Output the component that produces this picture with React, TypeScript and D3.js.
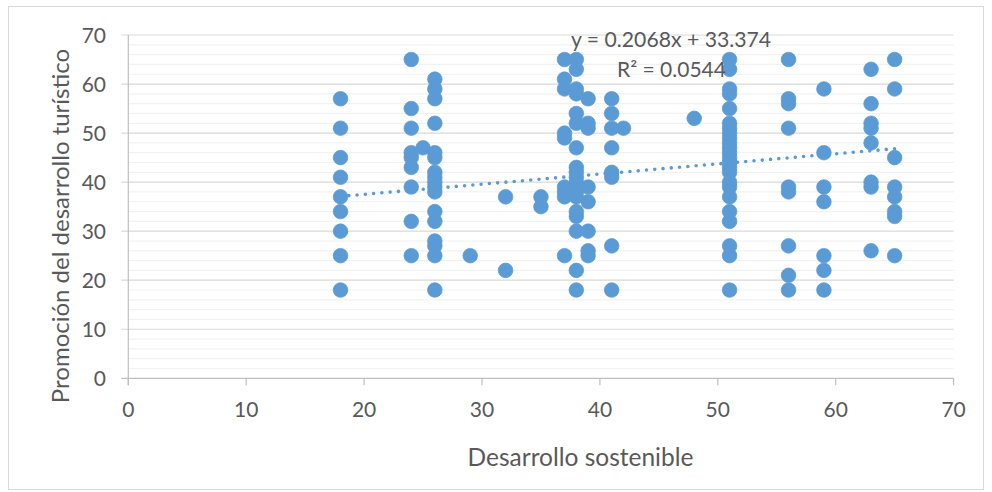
import React from "react";
import * as d3 from "d3";

const xGroups: number[] = [18, 24, 25, 26, 29, 32, 35, 37, 38, 39, 41, 42, 48, 51, 56, 59, 63, 65];
const yGroups: number[][] = [
  [57, 51, 45, 41, 37, 34, 30, 25, 18],
  [65, 55, 51, 46, 45, 43, 39, 32, 25],
  [47],
  [61, 59, 57, 52, 46, 45, 42, 41, 40, 39, 38, 34, 32, 28, 27, 25, 18],
  [25],
  [37, 22],
  [37, 35],
  [65, 61, 59, 50, 49, 39, 38, 37, 25],
  [65, 63, 59, 58, 54, 52, 47, 43, 42, 41, 40, 39, 38, 37, 34, 33, 30, 22, 18],
  [57, 52, 51, 39, 36, 30, 26, 25],
  [57, 54, 51, 47, 42, 41, 27, 18],
  [51],
  [53],
  [65, 63, 59, 58, 55, 52, 51, 50, 49, 48, 47, 46, 45, 44, 43, 42, 40, 39, 37, 34, 32, 27, 25, 18],
  [65, 57, 56, 51, 39, 38, 27, 21, 18],
  [59, 46, 39, 36, 25, 22, 18],
  [63, 56, 52, 51, 48, 40, 39, 26],
  [65, 59, 45, 39, 37, 34, 33, 25],
];
const trendSlope = 0.2068;
const trendIntercept = 33.374;
const trendRange: number[] = [18, 65];
const equationLabel = "y = 0.2068x + 33.374";
const r2Label = "R² = 0.0544";
const xTicks: number[] = [0, 10, 20, 30, 40, 50, 60, 70];
const yTicks: number[] = [0, 10, 20, 30, 40, 50, 60, 70];
const yMinorTicks: number[] = d3.range(0, 70.001, 2);
const xTitle = "Desarrollo sostenible";
const yTitle = "Promoción del desarrollo turístico";

const W = 992;
const H = 492;
const FONT = "Lato, 'Open Sans', sans-serif";
const TEXT = "#595959";
const BLUE = "#5b9bd5";

export default function App() {
  const x = d3.scaleLinear().domain([0, 70]).range([128.3, 953.6]);
  const y = d3.scaleLinear().domain([0, 70]).range([378.3, 35]);
  const points: { x: number; y: number }[] = [];
  xGroups.forEach((xv, i) => yGroups[i].forEach((yv) => points.push({ x: xv, y: yv })));
  const line = d3
    .line<number>()
    .x((d) => x(d))
    .y((d) => y(trendSlope * d + trendIntercept));

  return (
    <svg width={W} height={H} style={{ position: "absolute", left: 0, top: 0 }} fontFamily={FONT}>
      <rect x={0} y={0} width={W} height={H} fill="#fff" />
      <rect x={8.5} y={6.5} width={975} height={483} fill="#fff" stroke="#d9d9d9" strokeWidth={1} />
      {yMinorTicks.filter((t) => t % 10 !== 0).map((t) => (
        <line key={"m" + t} x1={x(0)} x2={x(70)} y1={y(t)} y2={y(t)} stroke="#f2f2f2" strokeWidth={1.2} />
      ))}
      {yTicks.filter((t) => t !== 0).map((t) => (
        <line key={"g" + t} x1={x(0) - 7} x2={x(70)} y1={y(t)} y2={y(t)} stroke="#d9d9d9" strokeWidth={1.2} />
      ))}
      <line x1={x(0) - 7} x2={x(70)} y1={y(0)} y2={y(0)} stroke="#bfbfbf" strokeWidth={1.2} />
      <line x1={x(0)} x2={x(0)} y1={y(70)} y2={y(0) + 7} stroke="#bfbfbf" strokeWidth={1.2} />
      {xTicks.map((t) => (
        <line key={"xt" + t} x1={x(t)} x2={x(t)} y1={y(0)} y2={y(0) + 7} stroke="#bfbfbf" strokeWidth={1.2} />
      ))}
      {yTicks.map((t) => (
        <text key={"yl" + t} x={106} y={y(t)} dy="0.36em" textAnchor="end" fontSize={21} fill={TEXT}>
          {t}
        </text>
      ))}
      {xTicks.map((t) => (
        <text key={"xl" + t} x={x(t)} y={417} textAnchor="middle" fontSize={21} fill={TEXT}>
          {t}
        </text>
      ))}
      <text x={580.5} y={466} textAnchor="middle" fontSize={24.5} fill={TEXT}>
        {xTitle}
      </text>
      <text transform={`translate(69,226) rotate(-90)`} textAnchor="middle" fontSize={24} fill={TEXT}>
        {yTitle}
      </text>
      {points.map((p, i) => (
        <circle key={i} cx={x(p.x)} cy={y(p.y)} r={7.3} fill={BLUE} stroke={BLUE} strokeWidth={0.75} />
      ))}
      <path
        d={line(trendRange) || ""}
        fill="none"
        stroke={BLUE}
        strokeWidth={3.6}
        strokeLinecap="round"
        strokeDasharray="0 8.3"
      />
      <text x={571} y={47} fontSize={21.2} fill={TEXT}>
        {equationLabel}
      </text>
      <text x={617} y={77} fontSize={21} fill={TEXT}>
        {r2Label}
      </text>
    </svg>
  );
}
